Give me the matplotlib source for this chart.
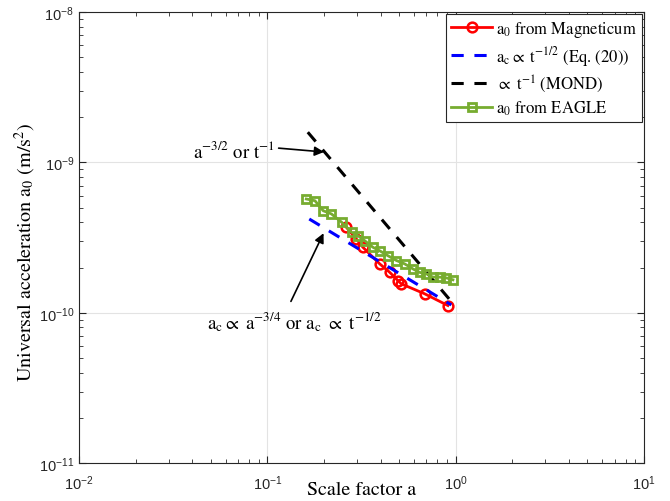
import matplotlib
matplotlib.use("Agg")
import matplotlib.pyplot as plt
import numpy as np

# ---- data ----
a_mag = [0.263, 0.297, 0.322, 0.395, 0.447, 0.494, 0.515, 0.685, 0.910]
acc_mag = [3.71e-10, 3.10e-10, 2.73e-10, 2.12e-10, 1.86e-10, 1.64e-10, 1.56e-10, 1.34e-10, 1.12e-10]

a_eagle = [0.161, 0.179, 0.198, 0.219, 0.248, 0.280, 0.303, 0.329, 0.364, 0.395,
           0.437, 0.485, 0.536, 0.594, 0.644, 0.699, 0.758, 0.822, 0.893, 0.968]
acc_eagle = [5.72e-10, 5.57e-10, 4.78e-10, 4.55e-10, 4.01e-10, 3.44e-10, 3.26e-10, 3.02e-10,
             2.73e-10, 2.59e-10, 2.40e-10, 2.23e-10, 2.12e-10, 1.96e-10, 1.86e-10, 1.82e-10,
             1.73e-10, 1.73e-10, 1.71e-10, 1.66e-10]

a_ac = [0.167, 0.949]
acc_ac = [4.21e-10, 1.13e-10]

a_mond = [0.164, 0.989]
acc_mond = [1.59e-9, 1.12e-10]

xlim = [1e-2, 1e1]
ylim = [1e-11, 1e-8]

plt.rcParams['mathtext.fontset'] = 'stix'
serif = ['STIXGeneral', 'Liberation Serif', 'DejaVu Serif']
sans = ['Liberation Sans', 'DejaVu Sans']

fig = plt.figure(figsize=(6.7, 5.02), dpi=100)
ax = fig.add_axes([0.118, 0.075, 0.843, 0.899])

ax.set_xscale('log')
ax.set_yscale('log')
ax.set_xlim(xlim)
ax.set_ylim(ylim)

green = '#77AC30'
ax.plot(a_mag, acc_mag, '-o', color='red', lw=2, ms=7, mfc='none', mew=1.8,
        label='a$_0$ from Magneticum', zorder=3)
ax.plot(a_ac, acc_ac, '--', color='blue', lw=2.2, dashes=(4, 3.5),
        label=r'a$_\mathrm{c}$$\propto$ t$^{-1/2}$ (Eq. (20))', zorder=3)
ax.plot(a_mond, acc_mond, '--', color='black', lw=2.2, dashes=(4, 3.5),
        label=r'$\propto$ t$^{-1}$ (MOND)', zorder=3)
ax.plot(a_eagle, acc_eagle, '-s', color=green, lw=2, ms=6, mfc='none', mew=2,
        label='a$_0$ from EAGLE', zorder=4)

# grid and ticks (MATLAB style)
ax.grid(True, which='major', color='#e3e3e3', lw=0.8)
ax.grid(False, which='minor')
ax.set_axisbelow(True)
ax.tick_params(which='both', direction='in', top=True, right=True, colors='#262626',
               labelsize=10.5)
ax.tick_params(which='major', length=5)
ax.tick_params(which='minor', length=3)
ax.tick_params(axis='x', which='major', pad=7)
for lab in ax.get_xticklabels() + ax.get_yticklabels():
    lab.set_fontfamily(sans)
for s in ax.spines.values():
    s.set_color('#262626')
    s.set_linewidth(0.8)

ax.set_xlabel('Scale factor a', fontfamily=serif, fontsize=14.5)
ax.xaxis.set_label_coords(0.5, -0.038)
ax.set_ylabel('Universal acceleration a$_0$ (m/s$^2$)', fontfamily=serif, fontsize=14.5)
ax.yaxis.set_label_coords(-0.073, 0.47)

# annotations
ax.annotate('', xy=(0.207, 1.17e-9), xytext=(0.111, 1.25e-9),
            arrowprops=dict(arrowstyle='-|>', color='black', lw=1.2, mutation_scale=14))
ax.text(0.110, 1.09e-9, 'a$^{-3/2}$ or t$^{-1}$', fontfamily=serif, fontsize=13.5,
        ha='right', va='baseline')
ax.annotate('', xy=(0.2018, 3.52e-10), xytext=(0.1315, 1.148e-10),
            arrowprops=dict(arrowstyle='-|>', color='black', lw=1.2, mutation_scale=14))
ax.text(0.0478, 7.95e-11, r'a$_\mathrm{c}$$\propto$ a$^{-3/4}$ or a$_\mathrm{c}$ $\propto$ t$^{-1/2}$',
        fontfamily=serif, fontsize=13.5, ha='left', va='baseline')

leg = ax.legend(loc='upper right', prop={'family': serif, 'size': 12}, fancybox=False,
                framealpha=1, edgecolor='#262626', borderaxespad=0.1, handlelength=2.45,
                handletextpad=0.25, borderpad=0.3, labelspacing=0.3)
leg.get_frame().set_linewidth(0.8)

fig.savefig('out.png', dpi=100)
